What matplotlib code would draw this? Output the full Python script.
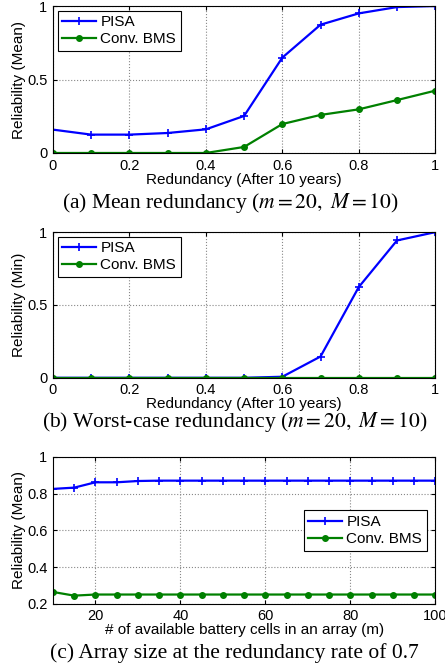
import numpy as np
import matplotlib
matplotlib.use("Agg")
import matplotlib.pyplot as plt

plt.rcParams['font.family'] = ['Liberation Sans', 'DejaVu Sans']
plt.rcParams['mathtext.fontset'] = 'stix'

# data
red = [0, 0.1, 0.2, 0.3, 0.4, 0.5, 0.6, 0.7, 0.8, 0.9, 1.0]
pisa_mean = [0.159, 0.125, 0.125, 0.136, 0.161, 0.252, 0.649, 0.873, 0.95, 0.993, 1.0]
bms_mean = [0, 0, 0, 0, 0, 0.041, 0.197, 0.259, 0.297, 0.36, 0.424]
pisa_min = [0, 0, 0, 0, 0, 0, 0.007, 0.146, 0.623, 0.943, 1.0]
bms_min = [0, 0, 0, 0, 0, 0, 0, 0, 0, 0, 0]
cells = list(range(10, 101, 5))
pisa_cells = [0.826, 0.833, 0.862, 0.862, 0.869] + [0.871] * 14
bms_cells = [0.265, 0.245] + [0.251] * 17

blue = (0, 0, 1)
green = (0, 0.5, 0)

fig = plt.figure(figsize=(4.45, 6.71), dpi=100)
L, W = 0.119, 0.859
ax_a = fig.add_axes([L, 0.772, W, 0.219])
ax_b = fig.add_axes([L, 0.437, W, 0.217])
ax_c = fig.add_axes([L, 0.100, W, 0.219])

legkw = dict(fontsize=11, fancybox=False, edgecolor='black', framealpha=1,
             borderpad=0.3, labelspacing=0.2, handlelength=2.2,
             handletextpad=0.3, borderaxespad=0.3)


def style(ax):
    ax.grid(True, linestyle=':', color='#888888', linewidth=0.8)
    ax.tick_params(direction='in', labelsize=10.5, length=3, top=True, right=True, pad=4)
    for s in ax.spines.values():
        s.set_linewidth(0.8)


for ax, p, b, yl in [(ax_a, pisa_mean, bms_mean, 'Reliability (Mean)'),
                     (ax_b, pisa_min, bms_min, 'Reliability (Min)')]:
    ax.plot(red, p, color=blue, marker='+', markersize=6, mew=1.2, lw=1.6, label='PISA')
    ax.plot(red, b, color=green, marker='o', markersize=4, lw=1.6, label='Conv. BMS')
    ax.set_xlim(0, 1)
    ax.set_ylim(0, 1)
    ax.set_xticks([0, 0.2, 0.4, 0.6, 0.8, 1])
    ax.set_xticklabels(['0', '0.2', '0.4', '0.6', '0.8', '1'])
    ax.set_yticks([0, 0.5, 1])
    ax.set_yticklabels(['0', '0.5', '1'])
    ax.set_xlabel('Redundancy (After 10 years)', fontsize=11, labelpad=0)
    ax.set_ylabel(yl, fontsize=11, labelpad=1)
    leg = ax.legend(loc='upper left', **legkw)
    leg.get_frame().set_linewidth(0.8)
    style(ax)

ax_c.plot(cells, pisa_cells, color=blue, marker='+', markersize=6, mew=1.2, lw=1.6, label='PISA')
ax_c.plot(cells, bms_cells, color=green, marker='o', markersize=4, lw=1.6, label='Conv. BMS')
ax_c.set_xlim(10, 100)
ax_c.set_ylim(0.2, 1)
ax_c.set_xticks([20, 40, 60, 80, 100])
ax_c.set_yticks([0.2, 0.4, 0.6, 0.8, 1])
ax_c.set_yticklabels(['0.2', '0.4', '0.6', '0.8', '1'])
ax_c.set_xlabel('# of available battery cells in an array (m)', fontsize=11, labelpad=0)
ax_c.set_ylabel('Reliability (Mean)', fontsize=11, labelpad=1)
leg = ax_c.legend(loc='center right', bbox_to_anchor=(0.99, 0.5), **legkw)
leg.get_frame().set_linewidth(0.8)
style(ax_c)

cap = dict(ha='center', va='center', fontsize=15.5, family='Liberation Serif')
fig.text(0.517, 0.697, r'(a) Mean redundancy ($m = 20,\ M = 10$)', **cap)
fig.text(0.528, 0.371, r'(b) Worst-case redundancy ($m = 20,\ M = 10$)', **cap)
fig.text(0.527, 0.027, '(c) Array size at the redundancy rate of 0.7', **cap)

fig.savefig('out.png', dpi=100)
